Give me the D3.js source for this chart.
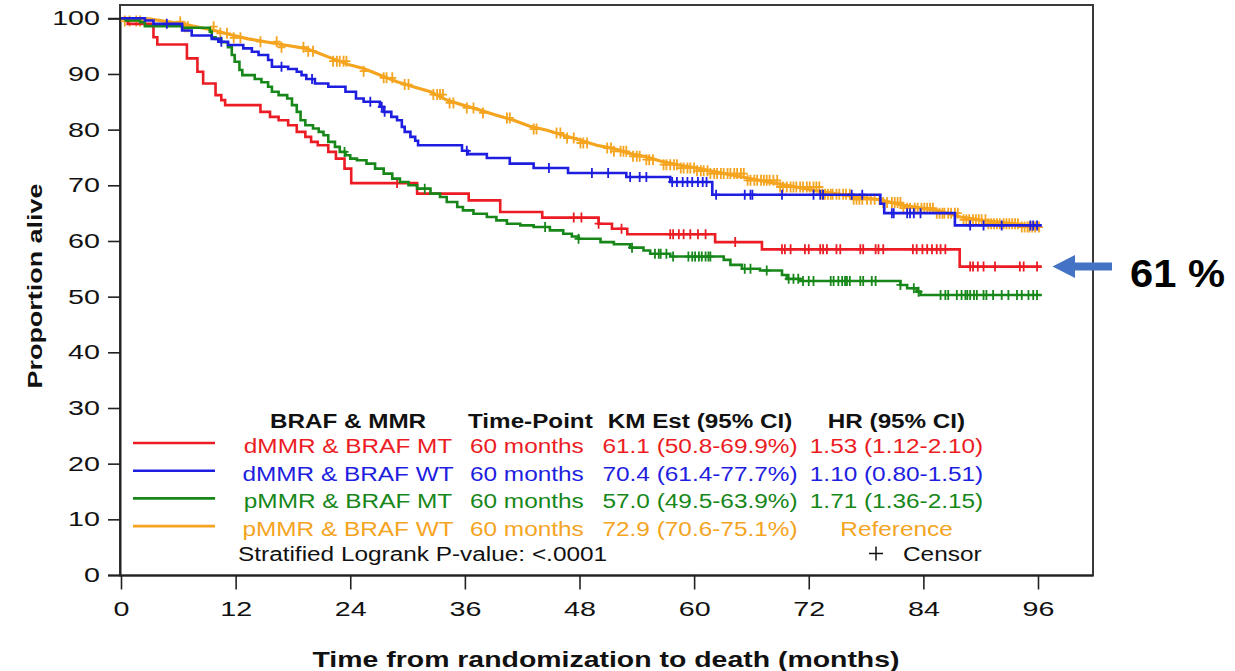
<!DOCTYPE html>
<html><head><meta charset="utf-8">
<script src="https://cdn.jsdelivr.net/npm/d3@7"></script>
<style>
body{margin:0;background:#fff}
svg{display:block}
text{font-family:"Liberation Sans",Arial,Helvetica,sans-serif}
</style>
</head><body>
<svg id="chart" width="1235" height="671"></svg>
<script>
// ---------------- DATA ----------------
const groups   = ["dMMR & BRAF MT", "dMMR & BRAF WT", "pMMR & BRAF MT", "pMMR & BRAF WT"];
const colors   = ["#ec1c24", "#1e1ee0", "#17871a", "#f5a41f"];
const timePoints = ["60 months", "60 months", "60 months", "60 months"];
const kmEst    = ["61.1 (50.8-69.9%)", "70.4 (61.4-77.7%)", "57.0 (49.5-63.9%)", "72.9 (70.6-75.1%)"];
const hrCI     = ["1.53 (1.12-2.10)", "1.10 (0.80-1.51)", "1.71 (1.36-2.15)", "Reference"];
const headers  = ["BRAF & MMR", "Time-Point", "KM Est (95% CI)", "HR (95% CI)"];
const xTicks   = [0, 12, 24, 36, 48, 60, 72, 84, 96];
const yTicks   = [0, 10, 20, 30, 40, 50, 60, 70, 80, 90, 100];
const pValueText = "Stratified Logrank P-value: <.0001";
const censorLabel = "Censor";
const annotation = "61 %";
const endTimes = [96.4, 96.4, 96.4, 96.2];

// step changes: [month, survival %]
const stepsRed = [[0.7,99.0],[3.4,96.6],[3.8,95.3],[6.9,92.8],[8.0,90.4],[8.6,88.3],[9.9,86.2],[10.5,85.3],[10.9,84.4],
  [14.6,83.2],[15.6,82.3],[16.5,81.7],[17.5,80.8],[18.4,79.6],[19.3,78.7],[19.9,77.8],[20.6,77.2],[21.7,76.0],[22.5,74.8],
  [23.4,73.0],[24.1,70.4],[31.0,68.5],[36.4,67.3],[39.7,65.2],[44.1,64.2],[50.0,63.1],[51.4,62.2],[53.0,61.2],[62.2,59.8],
  [67.1,58.5],[87.8,55.4]];
const stepsBlue = [[2.5,99.6],[3.4,99.0],[6.4,97.8],[7.4,96.9],[9.5,96.3],[10.2,95.8],[11.2,95.2],[12.8,94.6],[13.7,94.0],
  [14.4,93.4],[15.4,92.5],[15.8,91.3],[17.5,90.9],[18.4,90.4],[18.9,89.8],[19.4,89.1],[20.3,88.3],[21.7,87.7],[23.5,86.8],
  [24.6,85.6],[25.4,85.0],[27.1,84.1],[27.5,83.2],[28.3,82.3],[28.9,81.7],[29.4,80.5],[29.7,79.6],[30.3,78.7],[30.8,78.0],
  [31.1,77.2],[35.7,76.2],[36.3,75.6],[38.3,74.9],[40.7,73.9],[43.2,73.1],[46.8,72.2],[52.9,71.5],[57.5,70.6],[61.9,68.3],
  [79.5,66.7],[79.9,65.0],[87.3,62.8]];
const stepsGreen = [[0.5,99.6],[2.0,99.3],[2.5,98.6],[6.4,98.3],[9.3,97.6],[9.5,96.6],[9.9,96.3],[10.5,95.7],[11.2,94.8],
  [11.6,93.4],[11.9,92.2],[12.4,90.7],[12.7,89.8],[14.0,89.1],[14.7,88.5],[15.4,87.7],[15.8,86.8],[16.5,86.2],[17.4,85.6],
  [17.9,84.4],[18.4,83.2],[18.8,81.7],[19.3,80.8],[20.1,80.2],[20.7,79.6],[21.2,79.0],[21.7,77.8],[22.4,76.9],[22.9,76.0],
  [23.5,75.4],[24.0,74.8],[24.7,74.5],[25.7,73.9],[26.6,73.0],[27.5,72.1],[28.4,71.2],[29.2,70.6],[30.1,70.0],[31.0,69.4],
  [32.4,68.5],[33.4,67.9],[34.1,67.0],[35.2,66.1],[35.8,65.5],[36.9,64.9],[38.3,64.3],[39.3,63.7],[40.4,63.1],[41.8,62.8],
  [43.2,62.5],[44.9,61.9],[46.3,61.3],[47.2,60.8],[47.9,60.4],[50.2,59.8],[51.6,59.4],[53.3,58.8],[54.7,58.3],[55.4,57.7],
  [57.5,57.2],[63.1,56.6],[63.8,55.7],[65.0,55.0],[66.9,54.7],[69.2,53.9],[69.7,53.2],[71.1,52.8],[81.6,52.1],[82.3,51.5],
  [83.3,50.9],[83.7,50.3]];
const stepsOrange = [[2.9,99.9],[6.4,99.0],[9.8,97.8],[11.6,97.0],[13.3,96.3],[16.8,95.3],[19.3,94.6],[20.3,94.0],[22.1,92.8],
  [23.8,91.7],[25.4,91.0],[27.1,89.8],[28.9,88.6],[30.6,87.7],[32.4,86.8],[34.1,85.3],[35.8,84.4],[37.6,83.5],[39.3,82.6],
  [41.1,81.7],[42.8,80.6],[44.6,79.9],[46.3,79.0],[48.1,78.1],[49.8,77.2],[51.6,76.6],[53.3,75.7],[55.0,75.1],[56.8,74.2],
  [58.5,73.6],[60.3,73.1],[61.7,72.6],[65.3,71.4],[69.0,70.2],[73.2,68.9],[76.7,68.0],[79.5,67.4],[81.9,66.4],[85.4,65.5],
  [87.9,64.3],[90.6,63.6],[94.1,63.0],[96.2,62.4]];

// censor times (months)
const censorRed = [28.9,47.4,48.2,50.0,52.4,57.5,57.8,58.4,58.9,59.6,60.4,61.2,64.3,69.2,69.5,70.1,71.6,72.0,73.2,73.5,73.9,
  74.9,75.3,77.4,77.7,79.0,79.3,79.8,82.9,83.3,83.9,84.4,84.9,85.4,85.8,86.3,88.9,89.2,89.7,90.3,91.5,94.1,94.5,95.9];
const censorBlue = [4.8,10.5,16.8,20.0,26.1,27.3,27.6,36.2,44.8,49.3,51.0,53.3,54.3,55.0,57.7,58.2,58.8,59.3,59.8,60.4,60.9,
  61.3,62.3,65.3,65.9,66.1,69.2,72.5,73.2,73.5,76.5,77.6,80.7,80.9,82.3,82.6,83.0,83.7,88.9,90.3,92.2,95.2,95.5,95.9];
const censorGreen = [23.4,31.8,44.4,47.9,53.5,55.9,56.3,56.5,57.1,57.8,59.4,59.8,60.1,60.5,60.8,61.2,61.5,61.7,65.3,65.9,67.6,
  69.9,70.4,70.9,71.4,72.0,72.5,74.3,74.6,75.1,75.5,75.8,76.0,76.3,77.4,77.7,78.6,79.0,81.6,83.0,83.5,85.8,86.3,86.6,87.5,
  88.0,88.4,88.6,88.9,89.3,89.6,90.3,90.6,91.3,92.2,92.9,93.8,94.3,95.0,95.5,95.9];
const censorOrange = [0.4,0.9,1.6,2.0,6.2,6.7,7.0,9.7,10.4,11.1,11.8,12.5,14.6,16.3,16.8,19.1,19.6,20.1,22.2,22.6,22.9,23.3,
  23.6,25.4,27.5,27.8,28.4,29.7,30.1,32.7,33.1,33.4,33.7,34.4,34.8,36.2,36.9,37.9,40.4,40.7,43.2,43.5,45.6,46.0,46.7,47.4,
  48.1,48.4,48.8,50.9,51.3,51.6,52.3,52.6,52.9,53.6,54.0,54.3,55.0,55.3,55.7,56.8,57.1,57.5,57.9,58.2,58.6,58.9,59.3,59.6,
  60.0,60.3,60.7,61.0,61.4,61.7,62.1,62.4,62.8,63.1,63.5,63.8,64.2,64.5,64.9,65.2,65.6,65.9,66.3,66.6,67.0,67.3,67.6,67.9,
  68.3,68.7,69.0,69.3,69.7,70.1,70.4,70.7,71.1,71.4,71.8,72.1,72.5,72.8,73.1,73.4,73.7,74.0,74.3,74.5,74.9,75.2,75.6,75.9,
  76.3,76.7,77.0,77.3,77.6,78.1,78.5,78.9,79.4,79.8,80.2,80.7,81.0,81.3,81.6,81.9,82.3,82.6,83.1,83.4,83.8,84.1,84.4,84.7,
  85.0,85.4,85.7,86.0,86.2,86.6,86.9,87.3,87.6,88.2,88.5,88.8,89.2,89.5,89.8,90.1,90.5,90.8,91.1,91.4,91.7,92.0,92.4,92.7,
  93.0,93.3,93.6,93.9,94.3,94.6,94.9,95.1,95.4,95.7,96.1];

const allSteps = [stepsRed, stepsBlue, stepsGreen, stepsOrange];
const allCensor = [censorRed, censorBlue, censorGreen, censorOrange];

// ---------------- CHART ----------------
const svg = d3.select("#chart");
const x = d3.scaleLinear().domain([0, 96]).range([121, 1038]);
const y = d3.scaleLinear().domain([0, 100]).range([575, 18.3]);
const frame = {left: 120, right: 1093, top: 5, bottom: 575.5};

// frame
svg.append("rect").attr("x", frame.left).attr("y", frame.top)
  .attr("width", frame.right - frame.left).attr("height", frame.bottom - frame.top)
  .attr("fill", "none").attr("stroke", "#3a3a3a").attr("stroke-width", 2);

const TICK_SX = 1.4;
const TICK_FS = 20.5;
// y axis
const gy = svg.append("g").attr("transform", `translate(${frame.left},0)`)
  .call(d3.axisLeft(y).tickValues(yTicks).tickSize(12).tickPadding(8).tickFormat(d3.format("d")));
gy.select(".domain").attr("stroke", "#222").attr("stroke-width", 2);
gy.selectAll(".tick line").attr("stroke", "#222").attr("stroke-width", 1.6);
gy.selectAll(".tick text").attr("font-size", TICK_FS).attr("fill", "#111")
  .attr("x", -20 / TICK_SX).attr("transform", `scale(${TICK_SX},1)`)
  .style("font-family", "'Liberation Sans',Arial,sans-serif");

// x axis
const gx = svg.append("g").attr("transform", `translate(0,${frame.bottom})`)
  .call(d3.axisBottom(x).tickValues(xTicks).tickSize(14).tickPadding(12).tickFormat(d3.format("d")));
gx.select(".domain").attr("stroke", "#222").attr("stroke-width", 2).attr("d", `M${frame.left},0H${frame.right}`);
gx.selectAll(".tick line").attr("stroke", "#222").attr("stroke-width", 1.6);
gx.selectAll(".tick text").attr("font-size", TICK_FS).attr("fill", "#111")
  .attr("transform", `scale(${TICK_SX},1)`)
  .style("font-family", "'Liberation Sans',Arial,sans-serif");

// axis titles
svg.append("text").attr("x", 606).attr("y", 667).attr("text-anchor", "middle")
  .attr("font-size", 22).attr("font-weight", "bold").attr("fill", "#111")
  .attr("textLength", 587).attr("lengthAdjust", "spacingAndGlyphs")
  .text("Time from randomization to death (months)");
svg.append("text").attr("transform", "translate(42,286) rotate(-90)").attr("text-anchor", "middle")
  .attr("font-size", 21).attr("font-weight", "bold").attr("fill", "#111")
  .attr("textLength", 205).attr("lengthAdjust", "spacingAndGlyphs")
  .text("Proportion alive");

// curves
function valueAt(steps, t) {
  let v = 100;
  for (const s of steps) { if (s[0] <= t) v = s[1]; else break; }
  return v;
}
function curvePoints(steps, end) {
  const pts = [[0, 100]];
  steps.forEach(s => pts.push([s[0], s[1]]));
  pts.push([end, steps[steps.length - 1][1]]);
  return pts;
}
const stepLine = d3.line().x(d => x(d[0])).y(d => y(d[1])).curve(d3.curveStepAfter);
const smoothLine = d3.line().x(d => x(d[0])).y(d => y(d[1])).curve(d3.curveLinear);

const drawOrder = [3, 0, 2, 1];
drawOrder.forEach(i => {
  const g = svg.append("g");
  const line = i === 3 ? smoothLine : stepLine;
  g.append("path").attr("d", line(curvePoints(allSteps[i], endTimes[i])))
    .attr("fill", "none").attr("stroke", colors[i]).attr("stroke-width", i === 3 ? 3.2 : 2.6)
    .attr("stroke-linejoin", "miter");
  const half = i === 3 ? 5.5 : 5;
  g.selectAll("path.c").data(allCensor[i]).join("path").attr("class", "c")
    .attr("d", t => {
      const cx = x(t);
      const cy = i === 3 ? y(valueAt(allSteps[i], t) - 0.5) : y(valueAt(allSteps[i], t));
      return `M${cx - 4},${cy}h8M${cx},${cy - half}v${2 * half}`;
    })
    .attr("stroke", colors[i]).attr("stroke-width", 1.8).attr("fill", "none");
});

// legend
const LSX = 1.25;
function stext(px, py, str, opts) {
  return svg.append("text").attr("transform", `translate(${px},${py}) scale(${LSX},1)`)
    .attr("text-anchor", opts.anchor || "start").attr("font-size", opts.size || 19.5)
    .attr("font-weight", opts.bold ? "bold" : "normal").attr("fill", opts.fill || "#111").text(str);
}
const colX = [348, 468, 700, 896.5];
const colAnchor = ["middle", "start", "middle", "middle"];
headers.forEach((h, k) => stext(colX[k], 428, h, {anchor: colAnchor[k], size: 19.4, bold: true}));
const rowY0 = 453, rowDY = 27.7;
groups.forEach((gname, i) => {
  const by = rowY0 + i * rowDY;
  svg.append("line").attr("x1", 133).attr("x2", 215).attr("y1", by - 10).attr("y2", by - 10)
    .attr("stroke", colors[i]).attr("stroke-width", 2.6);
  stext(colX[0], by, gname, {anchor: "middle", fill: colors[i]});
  stext(colX[1] + 2, by, timePoints[i], {anchor: "start", fill: colors[i]});
  stext(colX[2], by, kmEst[i], {anchor: "middle", fill: colors[i]});
  stext(colX[3], by, hrCI[i], {anchor: "middle", fill: colors[i]});
});
stext(238, 561, pValueText, {anchor: "start"});
svg.append("path").attr("d", "M869,553.5h14M876,546.5v14").attr("stroke", "#111").attr("stroke-width", 1.5);
stext(903, 561, censorLabel, {anchor: "start"});

// annotation arrow pointing at the final red value
const ay = y(stepsRed[stepsRed.length - 1][1]);
svg.append("path")
  .attr("d", `M1052.5,${ay} L1075,${ay - 11.5} L1075,${ay - 4} L1112,${ay - 4} L1112,${ay + 4} L1075,${ay + 4} L1075,${ay + 11.5} Z`)
  .attr("fill", "#4472c4");
svg.append("text").attr("x", 1130).attr("y", 287).attr("font-size", 39).attr("font-weight", "bold")
  .attr("fill", "#000").attr("textLength", 95).attr("lengthAdjust", "spacingAndGlyphs").text(annotation);
</script>
</body></html>
